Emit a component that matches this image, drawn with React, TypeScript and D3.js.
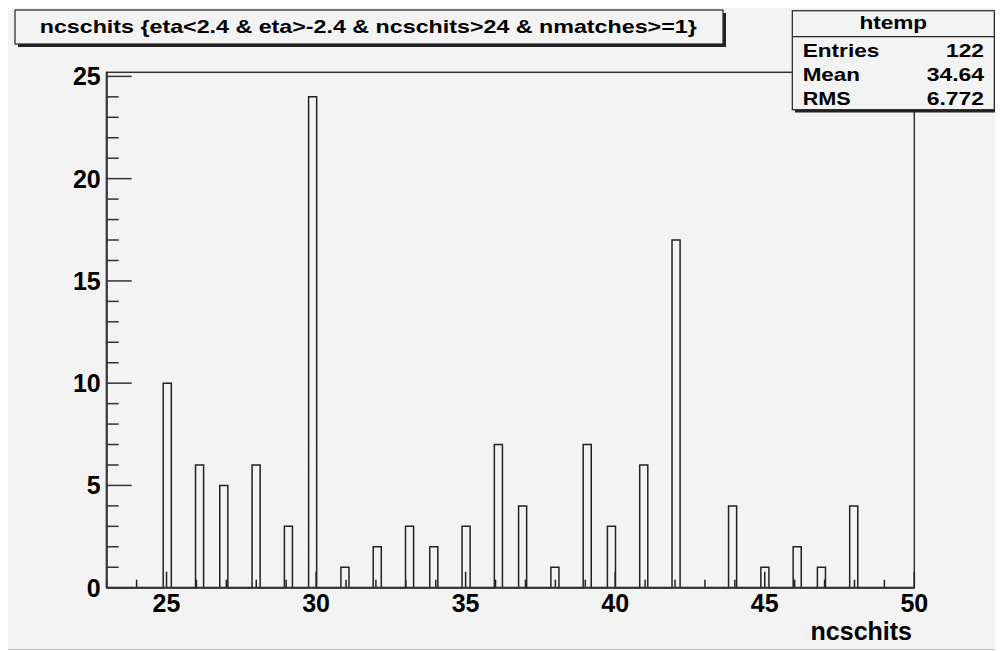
import React from "react";
import * as d3 from "d3";

// Histogram data: integer ncschits values and their entry counts
const hitValues = [25, 26, 27, 28, 29, 30, 31, 32, 33, 34, 35, 36, 37, 38, 39, 40, 41, 42, 43, 44, 45, 46, 47, 48];
const hitCounts = [10, 6, 5, 6, 3, 24, 1, 2, 3, 2, 3, 7, 4, 1, 7, 3, 6, 17, 0, 4, 1, 2, 1, 4];
const xTickLabels = [25, 30, 35, 40, 45, 50];
const yTickLabels = [0, 5, 10, 15, 20, 25];
const titleText = "ncschits {eta<2.4 & eta>-2.4 & ncschits>24 & nmatches>=1}";
const statsLabels = ["Entries", "Mean", "RMS"];
const statsValues = ["122", "34.64", "6.772"];

const X_MIN = 23;
const X_MAX = 50;
const N_BINS = 100;
const Y_MAX = 25.2;

const FONT = "'Liberation Sans', Arial, Helvetica, sans-serif";

export default function App() {
  const left = 106.7, right = 914.3, top = 72.3, bottom = 587.7;
  const x = d3.scaleLinear().domain([X_MIN, X_MAX]).range([left, right]);
  const y = d3.scaleLinear().domain([0, Y_MAX]).range([bottom, top]);

  // fill bins
  const binW = (X_MAX - X_MIN) / N_BINS;
  const bins = new Array(N_BINS).fill(0);
  hitValues.forEach((v, i) => {
    const k = Math.floor((v - X_MIN) / binW + 1e-9);
    if (k >= 0 && k < N_BINS) bins[k] += hitCounts[i];
  });

  // step outline
  const pts: [number, number][] = [];
  pts.push([x(X_MIN), y(0)]);
  for (let k = 0; k < N_BINS; k++) {
    const x0 = X_MIN + k * binW;
    const x1 = X_MIN + (k + 1) * binW;
    pts.push([x(x0), y(bins[k])]);
    pts.push([x(x1), y(bins[k])]);
  }
  pts.push([x(X_MAX), y(0)]);
  const stepPath = d3.line()(pts) || "";

  const xTicks = d3.range(X_MIN, X_MAX + 1, 1);
  const yTicks = d3.range(0, 26, 1);

  const stroke = "#333";

  return (
    <svg width={995} height={643} style={{ display: "block" }}>
      <g transform="translate(-8,-8)">
        <rect x={8} y={8} width={995} height={641} fill="#f3f3f3" />
        <line x1={8} x2={1003} y1={649.5} y2={649.5} stroke="#c4c4c4" strokeWidth={1} />

        {/* frame */}
        <rect x={left} y={top} width={right - left} height={bottom - top} fill="none" stroke={stroke} strokeWidth={1.5} />

        {/* histogram */}
        <path d={stepPath} fill="none" stroke="#222" strokeWidth={1.5} />

        {/* x axis ticks */}
        {xTicks.map((t) => (
          <line key={"xt" + t} x1={x(t)} x2={x(t)} y1={bottom} y2={bottom - (t % 5 === 0 ? 16 : 8)} stroke="#222" strokeWidth={1.5} />
        ))}
        {/* y axis ticks */}
        {yTicks.map((t) => (
          <line key={"yt" + t} x1={left} x2={left + (t % 5 === 0 ? 25 : 12)} y1={y(t)} y2={y(t)} stroke={stroke} strokeWidth={1.5} />
        ))}
        <line x1={left} x2={right} y1={bottom} y2={bottom} stroke={stroke} strokeWidth={2} />
        <line x1={left} x2={left} y1={bottom} y2={top} stroke={stroke} strokeWidth={2} />

        {/* tick labels */}
        {xTickLabels.map((t) => (
          <text key={"xl" + t} x={x(t)} y={612} textAnchor="middle" fontFamily={FONT} fontWeight="bold" fontSize={25} fill="#000">
            {t}
          </text>
        ))}
        {yTickLabels.map((t) => (
          <text key={"yl" + t} x={100.7} y={y(t) + 9} textAnchor="end" fontFamily={FONT} fontWeight="bold" fontSize={25} fill="#000">
            {t}
          </text>
        ))}
        <text x={912} y={640} textAnchor="end" fontFamily={FONT} fontWeight="bold" fontSize={25} fill="#000">
          ncschits
        </text>

        {/* title box */}
        <rect x={18} y={13} width={708} height={34} fill="#222" />
        <rect x={15} y={10} width={708} height={34} fill="#f3f3f3" stroke="#222" strokeWidth={1.2} />
        <text x={39.7} y={32.5} fontFamily={FONT} fontWeight="bold" fontSize={19} textLength={657} lengthAdjust="spacingAndGlyphs" fill="#000">
          {titleText}
        </text>

        {/* stats box */}
        <rect x={795} y={13.5} width={202} height={99} fill="#222" />
        <rect x={792.3} y={10.7} width={202} height={99} fill="#f3f3f3" stroke="#222" strokeWidth={1.2} />
        <line x1={792.3} x2={994.3} y1={36.7} y2={36.7} stroke="#222" strokeWidth={1.2} />
        <text x={893.3} y={28.5} textAnchor="middle" fontFamily={FONT} fontWeight="bold" fontSize={18.6} textLength={67.7} lengthAdjust="spacingAndGlyphs" fill="#000">
          htemp
        </text>
        {statsLabels.map((s, i) => (
          <text key={"sl" + s} x={802.7} y={56.7 + i * 24.2} fontFamily={FONT} fontWeight="bold" fontSize={18.6} textLength={[76.7, 57.3, 48][i]} lengthAdjust="spacingAndGlyphs" fill="#000">
            {s}
          </text>
        ))}
        {statsValues.map((s, i) => (
          <text key={"sv" + s} x={984} y={56.7 + i * 24.2} textAnchor="end" fontFamily={FONT} fontWeight="bold" fontSize={18.6} textLength={[38, 57.3, 57.3][i]} lengthAdjust="spacingAndGlyphs" fill="#000">
            {s}
          </text>
        ))}
      </g>
    </svg>
  );
}
